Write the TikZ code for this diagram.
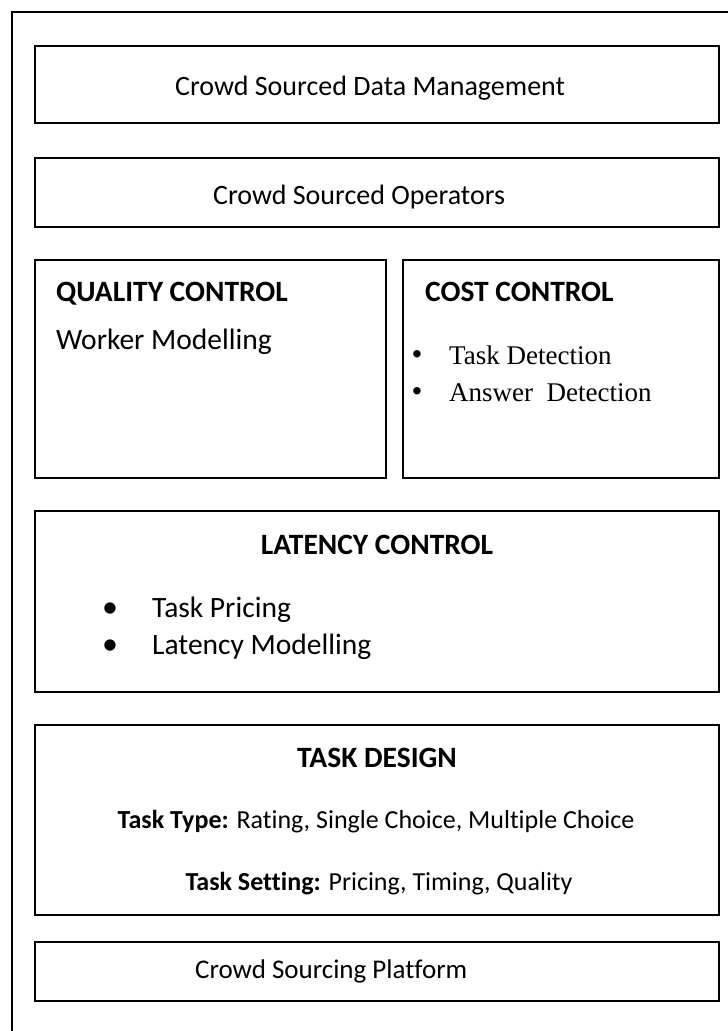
\documentclass[tikz,border=0pt]{standalone}
\usepackage{fontspec}
\setmainfont{Carlito}[Ligatures=NoCommon]
\newfontfamily\timesfont{Liberation Serif}
\newcommand{\bodysize}{\fontsize{28}{34}\selectfont}
\newcommand{\headsize}{\fontsize{29.5}{35}\selectfont}

\begin{document}
\begin{tikzpicture}[
        x=1pt, y=1pt,
        layer/.style={line width=1.5pt},
        label/.style={anchor=base west, inner sep=0pt, font=\bodysize},
        heading/.style={label, font=\headsize\bfseries},
        centred/.style={anchor=base, inner sep=0pt, font=\bodysize},
        dot/.style={anchor=base, inner sep=0pt, font=\fontsize{32}{36}\selectfont},
    ]
    \useasboundingbox (0,0) rectangle (728,1031);

    % open frame round the whole stack
    \draw[layer] (12,0) |- (728,1019);

    % the layers, top to bottom
    \foreach \xa/\ya/\xb/\yb in {35/985/719/908, 35/873/719/804,
            35/771/386/553, 403/771/719/553,
            35/520/719/339, 35/306/719/116, 35/89/719/30}
        \draw[layer] (\xa,\ya) rectangle (\xb,\yb);

    \node[label] (dm) at (175,935) {Crowd Sourced Data Management};
    \node[label] (ops) at (213,826) {Crowd Sourced Operators};

    \node[heading] (quality) at (56,729) {QUALITY CONTROL};
    \node[label, font=\headsize] (worker) at (56,681) {Worker Modelling};

    \node[heading] (cost) at (425,729) {COST CONTROL};
    \foreach \Name/\Y/\Text in {taskdet/666/Task Detection, answerdet/629/Answer\ \ Detection} {
        \node[dot, font=\fontsize{31}{36}\timesfont] (\Name-dot) at (417,\Y) {\textbullet};
        \node[label, font=\fontsize{27}{32}\timesfont] (\Name) at (449,\Y) {\Text};
    }

    \node[centred, font=\headsize\bfseries] (latency) at (377,476) {LATENCY CONTROL};
    \foreach \Name/\Y/\Text in {pricing/413/Task Pricing, latmodel/376/Latency Modelling} {
        \node[dot] (\Name-dot) at (110,\Y) {\textbullet};
        \node[label, font=\headsize] (\Name) at (152,\Y) {\Text};
    }

    \node[centred, font=\headsize\bfseries] (design) at (377,263) {TASK DESIGN};
    \node[centred, font=\fontsize{26}{31}\selectfont] (type) at (376,202)
        {\textbf{Task Type:} Rating, Single Choice, Multiple Choice};
    \node[centred, font=\fontsize{26}{31}\selectfont] (setting) at (379,140)
        {\textbf{Task Setting:} Pricing, Timing, Quality};

    \node[label, font=\fontsize{27}{32}\selectfont] (platform) at (195,52) {Crowd Sourcing Platform};
\end{tikzpicture}
\end{document}
